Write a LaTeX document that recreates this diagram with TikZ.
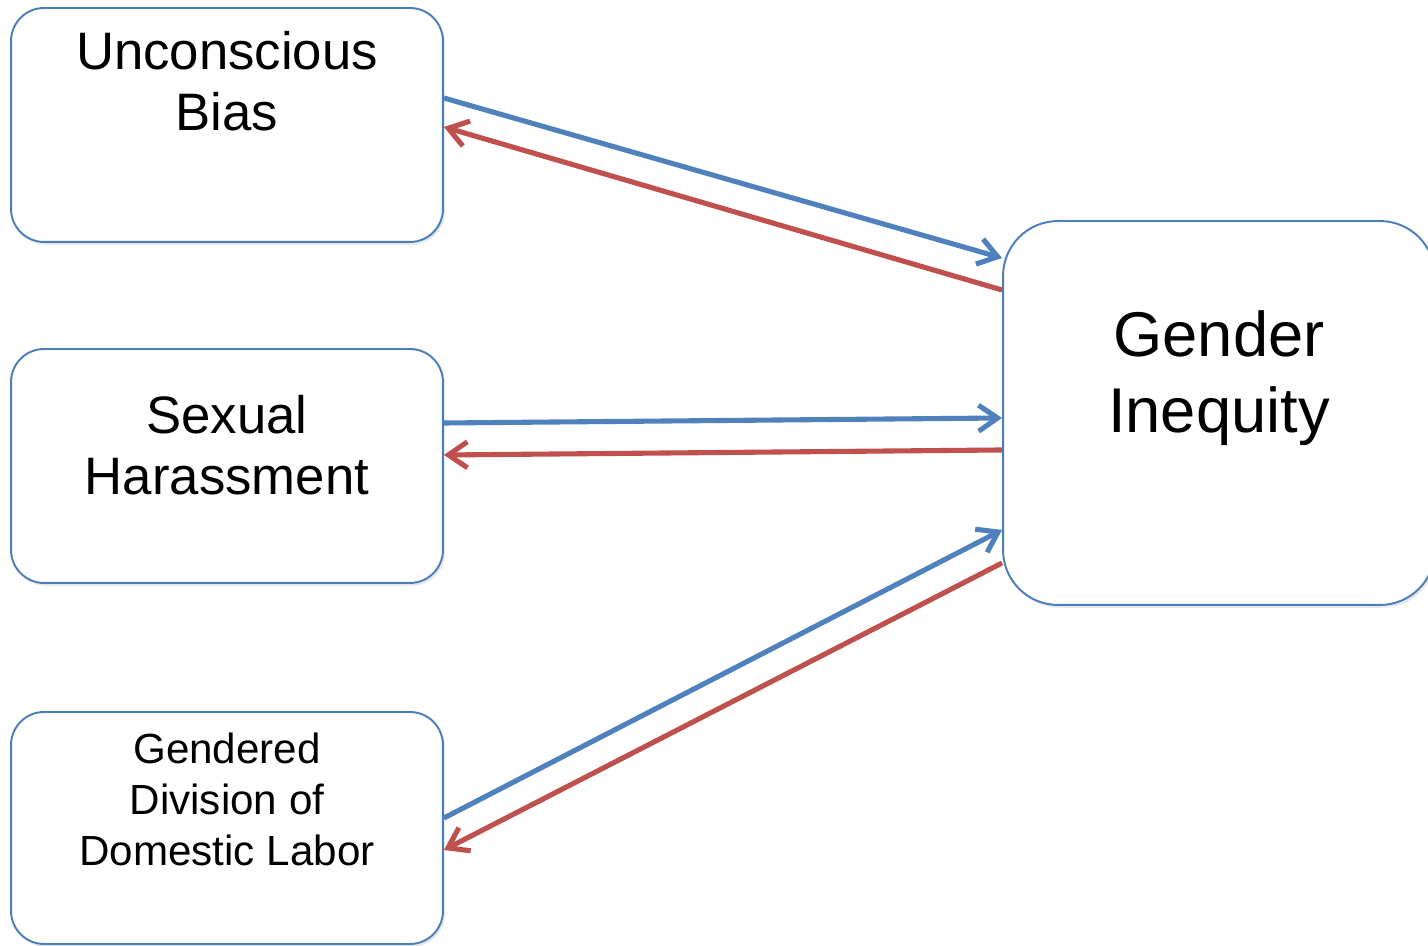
\documentclass[tikz,border=0pt]{standalone}
\usepackage{fontspec}
\setmainfont{Liberation Sans}
\usetikzlibrary{arrows.meta}
\usetikzlibrary{shadows}
\usetikzlibrary{positioning}
\definecolor{mblue}{RGB}{79,129,189}
\definecolor{mred}{RGB}{192,80,77}
\definecolor{mframe}{RGB}{74,126,187}
\tikzset{box/.style = {draw=mframe, line width=1.1pt, fill=white, rounded corners=0.66cm,
                       minimum width=8.64cm, minimum height=4.68cm, inner sep=0,
                       drop shadow={shadow xshift=1.2pt, shadow yshift=-1.6pt, opacity=0.18}}}
\tikzset{bigbox/.style = {box, rounded corners=1.1cm, minimum height=7.68cm}}
\tikzset{lbl/.style = {align=center, inner sep=0, font=\fontsize{30}{35}\selectfont}}
\tikzset{to/.style = {mblue, line width=2.9pt, -{Straight Barb[length=0.38cm, width=0.52cm, line width=2.9pt]}}}
\tikzset{fro/.style = {to, mred}}

\begin{document}
\begin{tikzpicture}[x=0.02cm, y=0.02cm]
      \useasboundingbox (0, 0) rectangle (1428, 946);

      \node [box] (ub) at (227, 821) {};
      \node [box] (sh) at (227, 480) {};
      \node [box, minimum height=4.64cm] (gd) at (227, 118) {};
      \node [bigbox] (gi) at (1219, 533) {};

      \node [lbl] (ubt) at ([yshift=0.88cm]ub.center) {Unconscious\\Bias};
      \node [lbl] (sht) at ([yshift=0.42cm]sh.center) {Sexual\\Harassment};
      \node [lbl, font=\fontsize{24}{29}\selectfont] (gdt) at ([yshift=0.58cm]gd.center) {Gendered\\Division of\\Domestic Labor};
      \node [lbl, font=\fontsize{36}{43}\selectfont] (git) at ([yshift=0.7cm]gi.center) {Gender\\Inequity};

      \draw [to] ([yshift=0.54cm]ub.east) -- ([yshift=3.1cm]gi.west);
      \draw [fro] ([yshift=2.46cm]gi.west) -- ([yshift=-0.04cm]ub.east);

      \draw [to] ([yshift=0.86cm]sh.east) -- ([yshift=-0.1cm]gi.west);
      \draw [fro] ([yshift=-0.74cm]gi.west) -- ([yshift=0.22cm]sh.east);

      \draw [to] ([yshift=0.2cm]gd.east) -- ([yshift=-2.34cm]gi.west);
      \draw [fro] ([yshift=-3cm]gi.west) -- ([yshift=-0.44cm]gd.east);
\end{tikzpicture}
\end{document}
